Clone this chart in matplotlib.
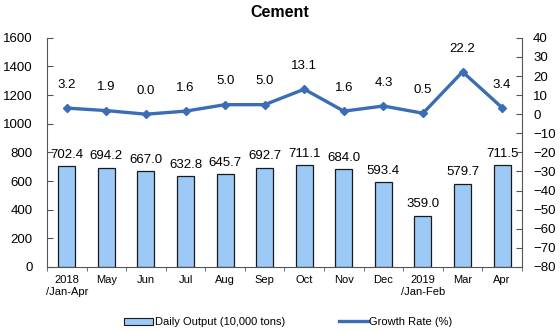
import matplotlib.pyplot as plt
import numpy as np
from matplotlib.lines import Line2D
from matplotlib.patches import Patch

plt.rcParams['font.family'] = ['Liberation Sans', 'DejaVu Sans']

months = ['2018\n/Jan-Apr', 'May', 'Jun', 'Jul', 'Aug', 'Sep', 'Oct', 'Nov',
          'Dec', '2019\n/Jan-Feb', 'Mar', 'Apr']
output = [702.4, 694.2, 667.0, 632.8, 645.7, 692.7, 711.1, 684.0, 593.4,
          359.0, 579.7, 711.5]
growth = [3.2, 1.9, 0.0, 1.6, 5.0, 5.0, 13.1, 1.6, 4.3, 0.5, 22.2, 3.4]

bar_col = '#9cc9f5'
line_col = '#3a6db5'

fig = plt.figure(figsize=(5.6, 3.32), dpi=100)
ax1 = fig.add_axes([0.084, 0.196, 0.848, 0.690])
ax2 = ax1.twinx()

x = np.arange(len(months))
ax1.bar(x, output, width=0.43, color=bar_col, edgecolor='#1a1a1a', linewidth=0.9, zorder=2)
for xi, v in zip(x, output):
    ax1.text(xi, v + 38, f'{v:.1f}', ha='center', va='bottom', fontsize=9.5)

ax2.plot(x, growth, color=line_col, lw=2.4, marker='D', ms=4.5, zorder=3)
for xi, v in zip(x, growth):
    ax2.text(xi, v + 9, f'{v:.1f}', ha='center', va='bottom', fontsize=9.5)

ax1.set_xlim(-0.5, len(months) - 0.5)
ax1.set_ylim(0, 1600)
ax1.set_yticks(range(0, 1601, 200))
ax2.set_ylim(-80, 40)
ax2.set_yticks(range(-80, 41, 10))

ax1.set_xticks(x)
ax1.set_xticklabels(months, fontsize=8)
ax1.tick_params(axis='x', length=0, pad=6)
ax1.set_xticks(np.arange(-0.5, len(months)), minor=True)
ax1.tick_params(axis='x', which='minor', length=3, direction='out', color='#555555')
ax1.tick_params(axis='y', direction='in', length=4, labelsize=9.5, color='#555555', pad=10.5)
ax2.tick_params(axis='y', direction='in', length=4, labelsize=9.5, color='#555555', pad=8)

for ax in (ax1, ax2):
    ax.spines['top'].set_visible(False)
    for s in ('left', 'right', 'bottom'):
        ax.spines[s].set_color('#555555')
        ax.spines[s].set_linewidth(0.8)
ax1.spines['right'].set_visible(False)
ax2.spines['left'].set_visible(False)
ax2.spines['bottom'].set_visible(False)

fig.text(0.5, 0.962, 'Cement', ha='center', va='center', fontsize=11.5, fontweight='bold')

# legend entries placed one by one along the bottom
leg_kw = dict(loc='center left', frameon=False, fontsize=8, borderpad=0,
              borderaxespad=0, handlelength=2.6, handletextpad=0.15, handleheight=0.6)
fig.legend([Patch(facecolor=bar_col, edgecolor='#1a1a1a', linewidth=0.8)],
           ['Daily Output (10,000 tons)'], bbox_to_anchor=(0.222, 0.03), **leg_kw)
fig.legend([Line2D([0], [0], color=line_col, lw=2.4)],
           ['Growth Rate (%)'], bbox_to_anchor=(0.605, 0.03), **leg_kw)

fig.savefig('out.png', dpi=100)
